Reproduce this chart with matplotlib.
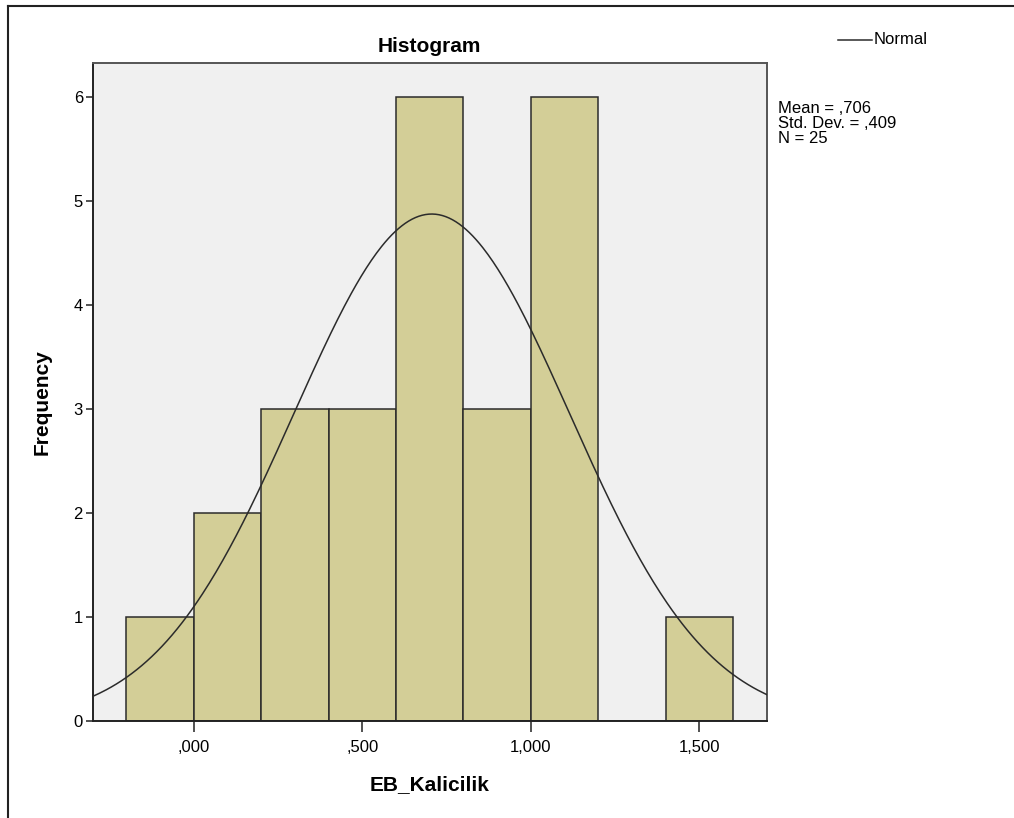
import numpy as np
import matplotlib
matplotlib.use("Agg")
import matplotlib.pyplot as plt
from matplotlib.lines import Line2D
from matplotlib.ticker import FuncFormatter

plt.rcParams['font.family'] = ['Liberation Sans', 'DejaVu Sans']

# histogram bins (width 0,2) and counts
bin_edges = [-0.2, 0.0, 0.2, 0.4, 0.6, 0.8, 1.0, 1.2, 1.4, 1.6]
counts = [1, 2, 3, 3, 6, 3, 6, 0, 1]

# summary statistics shown beside the plot
mean = 0.706
std_dev = 0.409
n = 25

x_ticks = [0.0, 0.5, 1.0, 1.5]
y_ticks = [0, 1, 2, 3, 4, 5, 6]

W, H = 1014, 818
fig = plt.figure(figsize=(W / 100, H / 100), dpi=100)
ax = fig.add_axes([92.7 / W, 97 / H, 674 / W, 658 / H])
ax.set_facecolor('#F0F0F0')

bar_w = bin_edges[1] - bin_edges[0]
ax.bar(bin_edges[:-1], counts, width=bar_w, align='edge',
       color='#D3CE97', edgecolor='#2B2B2B', linewidth=1.1, zorder=2)

# normal curve scaled to counts
xs = np.linspace(-0.3, 1.7, 400)
ys = n * bar_w / (std_dev * np.sqrt(2 * np.pi)) * np.exp(-0.5 * ((xs - mean) / std_dev) ** 2)
ax.plot(xs, ys, color='#2B2B2B', linewidth=1.1, zorder=3)

ax.set_xlim(-0.3, 1.7)
ax.set_ylim(0, 6.33)
ax.set_xticks(x_ticks)
ax.set_yticks(y_ticks)


def spss_fmt(v, pos=None):
    s = f"{v:.3f}".replace('.', ',')
    if s.startswith('0,'):
        s = s[1:]
    return s


ax.xaxis.set_major_formatter(FuncFormatter(spss_fmt))
ax.tick_params(axis='x', length=8, width=1.2, color='#333333', labelsize=12, pad=6)
ax.tick_params(axis='y', length=5, width=1.2, color='#333333', labelsize=12, pad=2)
for sp in ax.spines.values():
    sp.set_color('#555555')
    sp.set_linewidth(1.4)
ax.spines['left'].set_color('#222222')
ax.spines['bottom'].set_color('#222222')

ax.set_title('Histogram', fontsize=15, fontweight='bold', pad=8)
ax.set_xlabel('EB_Kalicilik', fontsize=15, fontweight='bold', labelpad=14)
ax.set_ylabel('Frequency', fontsize=15, fontweight='bold')
ax.yaxis.set_label_coords(-0.061, 0.485)

# legend entry and stats text to the right
fig.add_artist(Line2D([838 / W, 872 / W], [1 - 40 / H, 1 - 40 / H],
                      color='#2B2B2B', linewidth=1.1))
fig.text(874 / W, 1 - 40 / H, 'Normal', fontsize=12, va='center', ha='left')
fig.text(778 / W, 1 - 101 / H,
         f"Mean = {spss_fmt(mean)}\nStd. Dev. = {spss_fmt(std_dev)}\nN = {n}",
         fontsize=12, va='top', ha='left', linespacing=1.0)

# outer chart frame
fig.add_artist(Line2D([7.5 / W, 7.5 / W], [0, 1 - 6 / H], color='#222222', linewidth=1.5))
fig.add_artist(Line2D([7.5 / W, 1], [1 - 6 / H, 1 - 6 / H], color='#222222', linewidth=1.5))

fig.savefig('out.png', dpi=100)
